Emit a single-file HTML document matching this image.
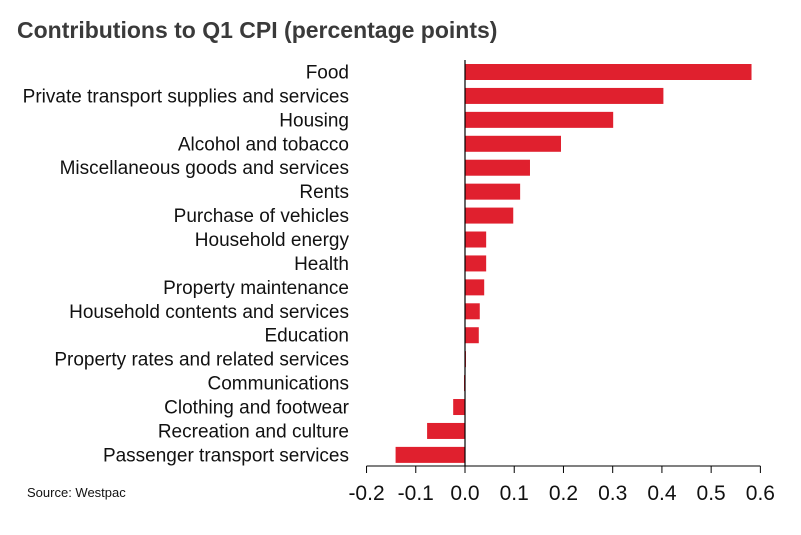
<!DOCTYPE html>
<html><head><meta charset="utf-8"><style>
body{margin:0;background:#fff;width:801px;height:535px;overflow:hidden;font-family:"Liberation Sans",sans-serif}
svg{display:block}
</style></head><body>
<svg id="chart" width="801" height="535" xmlns="http://www.w3.org/2000/svg">
<text x="17" y="38" font-size="23" font-weight="bold" fill="#3a3a3a" font-family="Liberation Sans, sans-serif">Contributions to Q1 CPI (percentage points)</text>
<text x="27" y="497" font-size="13" fill="#111">Source: Westpac</text>
<g id="bars"></g>
<g id="axis"></g>
</svg>
<script>
const categories=["Food","Private transport supplies and services","Housing","Alcohol and tobacco","Miscellaneous goods and services","Rents","Purchase of vehicles","Household energy","Health","Property maintenance","Household contents and services","Education","Property rates and related services","Communications","Clothing and footwear","Recreation and culture","Passenger transport services"];
const values=[0.582,0.403,0.301,0.195,0.132,0.112,0.098,0.043,0.043,0.039,0.030,0.028,0.002,-0.002,-0.024,-0.077,-0.141];
const ticks=[-0.2,-0.1,0.0,0.1,0.2,0.3,0.4,0.5,0.6];
const tickLabels=["-0.2","-0.1","0.0","0.1","0.2","0.3","0.4","0.5","0.6"];
const NS="http://www.w3.org/2000/svg";
const x=v=>465+v*492.3;
const y=i=>72+i*23.93;
const bars=document.getElementById('bars'),axis=document.getElementById('axis');
function mk(t,a,p){const e=document.createElementNS(NS,t);for(const k in a)e.setAttribute(k,a[k]);p.appendChild(e);return e;}
categories.forEach((c,i)=>{
  const v=values[i];
  const r=mk('rect',{x:Math.min(x(0),x(v)),y:y(i)-8,width:Math.max(Math.abs(x(v)-x(0)),0.8),height:16,fill:'#e0202e'},bars);
  
  
  const t=mk('text',{x:349,y:y(i)+6.5,'text-anchor':'end','font-size':19,fill:'#111'},bars);
  t.textContent=c;
  
  
});
const z=mk('line',{x1:x(0),x2:x(0),y1:60,y2:466,stroke:'#000','stroke-width':1.2},axis);


const al=mk('line',{x1:x(ticks[0]),x2:x(ticks[ticks.length-1]),y1:466,y2:466,stroke:'#000','stroke-width':1},axis);


ticks.forEach((v,i)=>{
  const l=mk('line',{x1:x(v),x2:x(v),y1:466,y2:473,stroke:'#000','stroke-width':1},axis);
  
  
  const t=mk('text',{x:x(v),y:500,'text-anchor':'middle','font-size':21,fill:'#111'},axis);
  t.textContent=tickLabels[i];
  
  
});
</script>
</body></html>
